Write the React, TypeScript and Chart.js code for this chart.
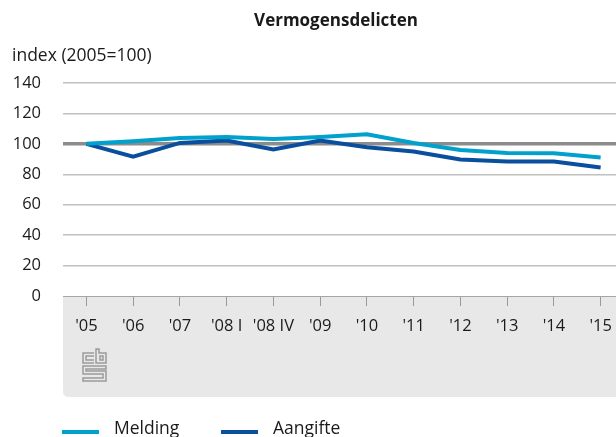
import React, { useEffect, useRef } from "react";
import { Chart, registerables } from "chart.js";

Chart.register(...registerables);

const categories = ["'05", "'06", "'07", "'08 I", "'08 IV", "'09", "'10", "'11", "'12", "'13", "'14", "'15"];
const meldingValues = [100, 101.7, 103.9, 104.5, 103.2, 104.5, 106.3, 100.6, 95.9, 94.0, 93.8, 91.0];
const aangifteValues = [100, 91.6, 100.6, 102.2, 96.3, 102.2, 97.8, 95.0, 89.7, 88.4, 88.4, 84.5];
const yTicks = [0, 20, 40, 60, 80, 100, 120, 140];
const titleText = "Vermogensdelicten";
const yAxisTitle = "index (2005=100)";
const seriesNames = ["Melding", "Aangifte"];

const LIGHT_BLUE = "#00a1cd";
const DARK_BLUE = "#0a4f9e";
const FONT = "'Open Sans', sans-serif";
const TEXT = "#1a1a1a";

const decorPlugin = {
  id: "decor",
  beforeDraw(chart: any) {
    const { ctx, chartArea } = chart;
    const x0 = chartArea.left;
    const y0 = chartArea.bottom;
    const x1 = chart.width;
    const y1 = y0 + 101;
    const r = 6;
    ctx.save();
    ctx.fillStyle = "#e8e8e8";
    ctx.beginPath();
    ctx.moveTo(x0, y0);
    ctx.lineTo(x1, y0);
    ctx.lineTo(x1, y1);
    ctx.lineTo(x0 + r, y1);
    ctx.quadraticCurveTo(x0, y1, x0, y1 - r);
    ctx.closePath();
    ctx.fill();

    // CBS logo
    ctx.strokeStyle = "#9a9a9a";
    ctx.lineWidth = 1.5;
    const lx = 83;
    const ly = 349;
    ctx.beginPath();
    ctx.moveTo(lx + 11, ly + 4);
    ctx.lineTo(lx, ly + 4);
    ctx.lineTo(lx, ly + 14);
    ctx.lineTo(lx + 11, ly + 14);
    ctx.moveTo(lx + 11, ly + 7);
    ctx.lineTo(lx + 3, ly + 7);
    ctx.lineTo(lx + 3, ly + 11);
    ctx.lineTo(lx + 11, ly + 11);
    ctx.stroke();
    ctx.beginPath();
    ctx.moveTo(lx + 13, ly);
    ctx.lineTo(lx + 13, ly + 14);
    ctx.lineTo(lx + 23, ly + 14);
    ctx.lineTo(lx + 23, ly + 4);
    ctx.lineTo(lx + 16, ly + 4);
    ctx.lineTo(lx + 16, ly);
    ctx.closePath();
    ctx.stroke();
    ctx.strokeRect(lx + 17, ly + 7, 3, 4);
    ctx.beginPath();
    ctx.moveTo(lx + 23, ly + 17);
    ctx.lineTo(lx, ly + 17);
    ctx.lineTo(lx, ly + 25);
    ctx.lineTo(lx + 20, ly + 25);
    ctx.lineTo(lx + 20, ly + 29);
    ctx.lineTo(lx, ly + 29);
    ctx.lineTo(lx, ly + 32);
    ctx.lineTo(lx + 23, ly + 32);
    ctx.lineTo(lx + 23, ly + 22);
    ctx.lineTo(lx + 3, ly + 22);
    ctx.lineTo(lx + 3, ly + 20);
    ctx.lineTo(lx + 23, ly + 20);
    ctx.closePath();
    ctx.stroke();
    ctx.restore();
  },
  afterDraw(chart: any) {
    const { ctx } = chart;
    ctx.save();
    ctx.fillStyle = TEXT;
    ctx.textBaseline = "middle";
    ctx.font = `bold 17px ${FONT}`;
    ctx.textAlign = "center";
    ctx.fillText(titleText, 336, 21);
    ctx.font = `17.5px ${FONT}`;
    ctx.textAlign = "left";
    ctx.fillText(yAxisTitle, 12, 56);

    const colors = [LIGHT_BLUE, DARK_BLUE];
    const starts = [62, 221];
    seriesNames.forEach((name, i) => {
      ctx.strokeStyle = colors[i];
      ctx.lineWidth = 4;
      ctx.beginPath();
      ctx.moveTo(starts[i], 432);
      ctx.lineTo(starts[i] + 37, 432);
      ctx.stroke();
      ctx.fillStyle = TEXT;
      ctx.fillText(name, starts[i] + 52, 429);
    });
    ctx.restore();
  },
};

export default function App() {
  const ref = useRef<HTMLCanvasElement>(null);
  useEffect(() => {
    if (!ref.current) return;
    const chart = new Chart(ref.current, {
      type: "line",
      data: {
        labels: categories,
        datasets: [
          {
            label: seriesNames[0],
            data: meldingValues,
            borderColor: LIGHT_BLUE,
            backgroundColor: LIGHT_BLUE,
            borderWidth: 4,
            pointRadius: 0,
            tension: 0,
            order: 0,
          },
          {
            label: seriesNames[1],
            data: aangifteValues,
            borderColor: DARK_BLUE,
            backgroundColor: DARK_BLUE,
            borderWidth: 4,
            pointRadius: 0,
            tension: 0,
            order: 1,
          },
        ],
      },
      options: {
        responsive: false,
        animation: false,
        layout: { padding: { top: 83, bottom: 40, left: 0, right: 0 } },
        plugins: { legend: { display: false }, title: { display: false }, tooltip: { enabled: false } },
        scales: {
          x: {
            type: "category",
            offset: true,
            afterFit: (s: any) => {
              s.height = 101;
            },
            grid: {
              drawOnChartArea: false,
              drawTicks: true,
              tickLength: 10,
              color: "#9a9a9a",
              lineWidth: 1,
              offset: false,
            },
            border: { display: true, color: "#a6a6a6", width: 1 },
            ticks: {
              padding: 10,
              maxRotation: 0,
              autoSkip: false,
              color: TEXT,
              font: { family: FONT, size: 16.5 },
            },
          },
          y: {
            min: 0,
            max: 140,
            afterFit: (s: any) => {
              s.width = 63;
            },
            afterBuildTicks: (s: any) => {
              s.ticks = yTicks.map((v) => ({ value: v }));
            },
            border: { display: false },
            grid: {
              drawTicks: false,
              color: (c: any) => (c.tick && c.tick.value === 100 ? "#8c8c8c" : "#c0c0c0"),
              lineWidth: (c: any) => (c.tick && c.tick.value === 100 ? 3.5 : c.tick && c.tick.value === 0 ? 1 : 1.5),
            },
            ticks: {
              padding: 22,
              color: TEXT,
              font: { family: FONT, size: 16.5 },
            },
          },
        },
      },
      plugins: [decorPlugin],
    } as any);
    return () => chart.destroy();
  }, []);
  return (
    <div style={{ position: "absolute", left: 0, top: 0, width: 616, height: 437, overflow: "hidden", background: "#fff" }}>
      <canvas ref={ref} width={624} height={437} style={{ width: 624, height: 437, display: "block" }} />
    </div>
  );
}
